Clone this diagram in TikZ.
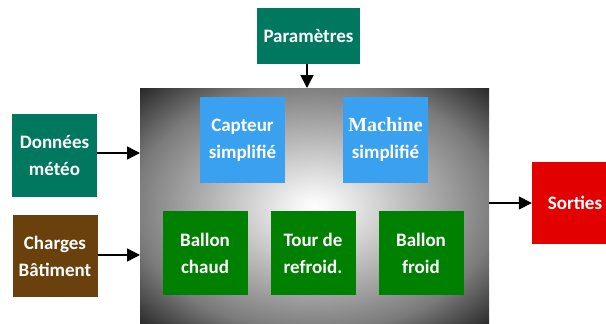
\documentclass[tikz,border=0pt]{standalone}
\usepackage{fontspec}
\setmainfont{Carlito}
\newfontfamily\serifbold{Liberation Serif}
\usetikzlibrary{arrows.meta}
\pgfdeclareradialshading{boxshade}{\pgfpoint{0bp}{0bp}}{color(0bp)=(white); color(3bp)=(white!95!black); color(26bp)=(black!52); color(40bp)=(black); color(100bp)=(black)}
\definecolor{teal1}{HTML}{00775F}
\definecolor{brown1}{HTML}{6A400C}
\definecolor{blue1}{HTML}{3AA0F0}
\definecolor{green1}{HTML}{008000}
\definecolor{red1}{HTML}{E20000}
\tikzset{
  blk/.style={minimum width=85pt, minimum height=84pt, inner sep=0pt, align=center, text=white, font=\fontsize{19}{27}\selectfont\bfseries},
  arr/.style={line width=1.5pt, -{Triangle[length=13pt,width=13pt]}}
}
\begin{document}
\begin{tikzpicture}[x=1pt,y=-1pt]
\useasboundingbox (0,0) rectangle (606,324);
\path[shading=boxshade] (140,88) rectangle (489,326);
\node[coordinate] (bigtop) at (307,88) {};
\node[coordinate] (bigl1) at (140,153) {};
\node[coordinate] (bigl2) at (140,255) {};
\node[coordinate] (bigr) at (489,203) {};
\node[blk, fill=teal1, minimum width=103pt, minimum height=56pt] (par) at (308.5,36) {Param\`etres};
\node[blk, fill=teal1, minimum height=83pt] (don) at (54.5,155.5) {Donn\'ees\\m\'et\'eo};
\node[blk, fill=brown1, minimum height=82pt] (cha) at (55,256) {Charges\\B\^atiment};
\node[blk, fill=blue1, minimum height=86pt] (cap) at (242.5,140) {Capteur\\simplifi\'e};
\node[blk, fill=blue1, minimum height=86pt] (mac) at (385.5,140) {{\serifbold\fontsize{20}{27}\selectfont Machine}\\simplifi\'e};
\node[blk, fill=green1] (bc) at (205,253) {Ballon\\chaud};
\node[blk, fill=green1] (tr) at (313,253) {Tour de\\refroid.};
\node[blk, fill=green1] (bf) at (421,253) {Ballon\\froid};
\node[blk, fill=red1, minimum width=86pt, minimum height=82pt] (sor) at (575,203) {Sorties};
\draw[arr] (par.south -| bigtop) -- (bigtop);
\draw[arr] (don.east |- bigl1) -- (bigl1);
\draw[arr] (cha.east |- bigl2) -- (bigl2);
\draw[arr] (bigr) -- (sor.west |- bigr);
\end{tikzpicture}
\end{document}
